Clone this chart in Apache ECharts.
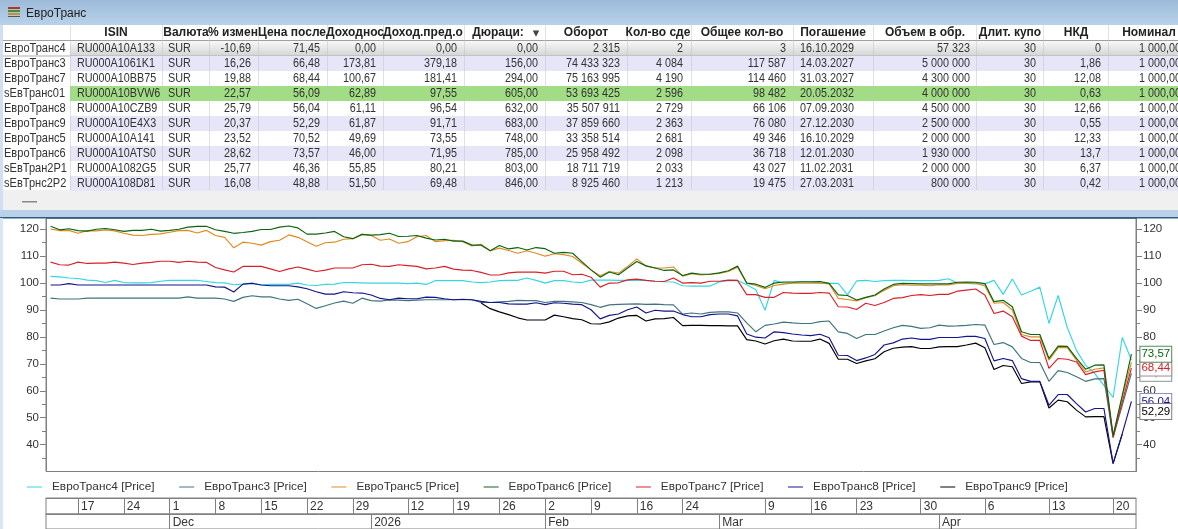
<!DOCTYPE html>
<html><head><meta charset="utf-8">
<style>html,body{margin:0;padding:0;background:#fff;overflow:hidden}#c{width:1178px;height:529px}</style>
<script src="https://cdn.jsdelivr.net/npm/echarts@6/dist/echarts.min.js"></script>
</head><body><div id="c"></div>
<script>
// ---------- chart data ----------
const dates = ['2025-11-12','2025-11-13','2025-11-14','2025-11-17','2025-11-18','2025-11-19','2025-11-20','2025-11-21','2025-11-24','2025-11-25','2025-11-26','2025-11-27','2025-11-28',
'2025-12-01','2025-12-02','2025-12-03','2025-12-04','2025-12-05','2025-12-08','2025-12-09','2025-12-10','2025-12-11','2025-12-12','2025-12-15','2025-12-16','2025-12-17','2025-12-18','2025-12-19','2025-12-22','2025-12-23','2025-12-24','2025-12-25','2025-12-26','2025-12-29','2025-12-30',
'2026-01-05','2026-01-06','2026-01-08','2026-01-09','2026-01-12','2026-01-13','2026-01-14','2026-01-15','2026-01-16','2026-01-19','2026-01-20','2026-01-21','2026-01-22','2026-01-23','2026-01-26','2026-01-27','2026-01-28','2026-01-29','2026-01-30',
'2026-02-02','2026-02-03','2026-02-04','2026-02-05','2026-02-06','2026-02-09','2026-02-10','2026-02-11','2026-02-12','2026-02-13','2026-02-16','2026-02-17','2026-02-18','2026-02-19','2026-02-20','2026-02-24','2026-02-25','2026-02-26','2026-02-27',
'2026-03-02','2026-03-03','2026-03-04','2026-03-05','2026-03-06','2026-03-09','2026-03-10','2026-03-11','2026-03-12','2026-03-13','2026-03-16','2026-03-17','2026-03-18','2026-03-19','2026-03-20','2026-03-23','2026-03-24','2026-03-25','2026-03-26','2026-03-27','2026-03-28','2026-03-29','2026-03-30','2026-03-31',
'2026-04-01','2026-04-02','2026-04-03','2026-04-04','2026-04-05','2026-04-06','2026-04-07','2026-04-08','2026-04-09','2026-04-10','2026-04-11','2026-04-12','2026-04-13','2026-04-14','2026-04-15','2026-04-16','2026-04-17','2026-04-18','2026-04-19','2026-04-20','2026-04-21','2026-04-22'];
const weekTicks = ['2025-11-17','2025-11-24','2025-12-01','2025-12-08','2025-12-15','2025-12-22','2025-12-29','2026-01-12','2026-01-19','2026-01-26','2026-02-02','2026-02-09','2026-02-16','2026-02-24','2026-03-09','2026-03-16','2026-03-23','2026-03-30','2026-04-06','2026-04-13','2026-04-20'];
const monthTicks = {'2025-12-01':'Dec','2026-01-05':'2026','2026-02-02':'Feb','2026-03-02':'Mar','2026-04-01':'Apr'};
const yLabels = [40,50,60,70,80,90,100,110,120];

const evro4 = [102.5,102.3,101.9,101.7,101.1,100.9,100.2,101,100.2,100.1,100.1,100.2,100.7,101,101,101,101,100.6,100.2,100.1,99.4,99.6,100,99.3,99.5,99.5,99.5,100,99.3,99.1,99.5,99.6,100.2,100.2,100.1,100,100,100,100,
99.8,100,99.5,100.9,100.9,100.9,100.9,100.4,100.2,100.4,100.9,101,101,101.9,101,100,100.9,100.9,100.4,100.2,101.1,101.1,101.1,101,101,101,101,100.7,100.5,100.4,99,98.9,98.9,98.9,100.4,100.9,101,99.4,97.5,89.9,101,100,100.2,
100.5,100.3,100.1,99.9,99.9,95.6,100.8,101,100.6,100.9,101,101,100.9,100.9,100.9,101,101.6,100.1,99.9,99.7,99.7,101,95.8,101.5,95.6,97,98.5,85,95.4,83.5,75,69.5,66.4,62,57.5,79.8,71.45];
const evro3 = [94.4,94.1,94.1,94.1,94.4,94.4,94.4,94.4,94.4,94.4,94.4,94.4,94.4,94.4,94.4,94.9,94.4,94.4,94.4,94.1,93.2,94.7,95.3,94.9,94.9,94.1,93.6,94,92.3,90.6,91.6,92.6,93.3,92.5,94.4,93.5,93.3,93.7,93.7,
93.5,93.7,93.8,93.8,93.8,93.8,93.8,93.8,92.8,92.8,93,93.2,93.6,93.5,93.5,92.8,93.2,93.2,93,92.8,92,91,91.9,92.1,92.2,92.3,92.1,92.2,92,91.9,88.5,88.9,88.5,89.1,89.3,89.3,88.9,85.2,81.9,84.3,84.8,85.5,85.2,
85,85,85.7,85.9,81.9,81.3,79.4,80.9,80.9,82.2,83.4,84.3,83.9,83.2,83.4,84.4,84,84.1,84.3,84.6,84.4,77.2,77.9,76.3,72,70.5,70.5,63.5,67.5,66.8,65.2,63.5,64.4,64.5,42.8,54.6,66.48];
const evro5 = [120.1,119.5,119.6,118.5,119.5,119.4,119.8,119.4,118.5,117.8,117.7,118.1,118.3,118.9,119.5,119.6,118.6,119.6,117.7,117,113.1,115.2,114.8,114.1,115.4,115.9,117.9,117,115.4,113.7,115,115.2,116.3,116.5,118.1,117.7,115.9,116.4,114.8,
115.4,117.2,117.7,115.4,115.8,115.9,115.4,113.8,114.4,112,113,112.1,111.1,112,111.1,110,110.9,110.6,109.9,107.4,104.9,102.7,104.3,103.7,106.2,109,106.4,105.6,105.6,106,102.6,103.5,103,103.3,103.6,104.3,105.9,100,99.1,97.9,99.1,99.6,100,
100,100,100,99.7,94.3,93.9,93.4,94.6,95.3,97.3,99,99.4,99.2,99.2,99,99.4,99.3,99.9,100.1,100,98.9,92.5,92.8,90,80.9,80,80,71.4,76,76,71.4,67,68,68.5,42.5,57.7,70.52];
const evro6 = [121.1,119.8,120.2,119.5,119.3,120,120.3,119.8,119.2,119.6,119.6,120,119.3,119.6,120,120.8,121.1,121.1,119.8,119.2,118.5,118.8,119.2,119.9,119.9,120.8,121.2,120.5,118.2,118.2,118.6,119.2,117.2,116.5,118.1,117.8,118,118.5,117.3,
117.4,117.7,116.7,116,116.3,115.6,115.6,114.1,114.1,112,114,112.7,113.2,112.3,113.2,112.8,111.1,111.4,111.1,108,104.9,102.2,104.1,103.1,105.6,108,106.4,105.6,104.7,104.9,102.8,103.7,103.3,103.3,103.8,104.6,106.3,100,99.6,98.4,100,100.4,100.4,
100.5,100.5,100.6,99.9,95.6,95.4,93.7,94.7,95.6,97.8,99.5,99.9,99.8,99.7,99.7,99.7,99.7,100.3,100.4,100.3,99.8,93.1,93.6,91.2,81.9,80.9,80.9,72,76.6,76.5,72,68,69.5,69.6,43.4,58.3,73.57];
const evro7 = [107.8,106.8,106.7,107.8,107.3,107.4,107.4,107.8,107.4,106.9,107.4,107.7,108.1,108.1,107.7,108.1,107.8,107.7,105.8,104.9,104.1,106.2,106.2,106.2,105.3,104.3,105.3,106,105.2,104.3,104.8,105.6,105.6,105.6,106.8,107,106.3,106.2,106.8,
106.5,106.2,105.3,105.6,106.2,105.2,104.8,104.7,104,103,103,103.8,104.1,104.1,104.1,103.7,104.4,104.4,103.1,103.3,102.2,98.5,100,100.1,101.2,101.5,101,100.7,100.6,101.9,100,100.2,100,100.7,100.7,101.1,101,95.7,95.7,94.7,94.7,96.5,96.3,
96.2,96.2,96.5,96.3,91.2,91.1,90.2,92.5,91.7,92.8,94.3,94.6,95.4,95.7,95.4,95.8,95.8,97,97.4,97.8,95.6,88.7,89.6,87.5,80.3,78.7,78.7,68.3,72,71.7,70.7,66,67,67.6,42.8,55.9,68.44];
const evro8 = [99.3,99.3,99.8,99.3,99.3,99.3,99.3,99.3,99.3,99.3,99.3,99.3,99.3,99.3,99.3,99.3,99.3,99.3,98.6,98.5,96.7,99.6,99.9,99.3,99,99,99,98.6,97.9,96.8,95.9,95.9,96.8,96.4,96.3,95.6,94.3,93.8,94.4,
94.2,94.2,94.8,94.7,94.2,93.8,94,93.8,93.2,92.8,92.8,92.3,92.2,92.2,92.7,92,92.7,92.5,92.2,92,90.1,86.7,88,88.5,90.1,91.1,88.9,89.9,89.6,89.6,88.3,87.5,87.5,88.3,88.5,88.5,87.8,81.1,79.9,79.6,81.9,81.6,81.1,
80.7,80.5,81,79.7,73.2,73.1,71.2,72.2,73.5,77,77.8,79.2,79.6,79.1,79.1,79.8,79.8,79.8,80.2,80.2,79.4,71.1,72,71.2,64.5,63.5,63.5,54.6,58.6,58.6,55.2,52.1,53.4,53.4,33,44.1,56.04];
const evro9 = [null,null,null,null,null,null,null,null,null,null,null,null,null,null,null,null,null,null,null,null,null,null,null,null,null,null,null,null,null,null,null,null,null,null,null,null,null,null,null,null,null,null,null,null,null,null,null,
92.6,90.5,89.3,88.3,87.1,86.3,86.3,86.3,88.1,87.5,86.8,86.4,84.9,84.8,85.6,87,87.8,88,85.9,86.7,86.8,87.2,84.2,84.3,84.3,84.2,84.2,84.1,84.1,79,78.5,77.4,78.6,79.2,78.5,
78.4,78.4,79.2,77.6,71.7,71.7,70.1,71.1,71.9,74.5,75.8,76.2,76.4,75.7,75.7,76.3,76.4,76.4,77,77.7,76,67.9,69.4,68.9,62.7,63.3,63.3,53.6,56.5,55.9,52.8,50.3,50.4,50.4,32.9,43.9,null];
const evro9LastPrice = 52.29;

const seriesNames = ['ЕвроТранс4 [Price]','ЕвроТранс3 [Price]','ЕвроТранс5 [Price]','ЕвроТранс6 [Price]','ЕвроТранс7 [Price]','ЕвроТранс8 [Price]','ЕвроТранс9 [Price]'];
const seriesValues = [evro4,evro3,evro5,evro6,evro7,evro8,evro9];

// ---------- table data ----------
const titleText = 'ЕвроТранс';
const tableHeaders = ['ISIN','Валюта','% измен','Цена после','Доходнос','Доход.пред.о','Дюраци:','Оборот','Кол-во сде','Общее кол-во','Погашение','Объем в обр.','Длит. купо','НКД','Номинал'];
const rowNames = ['ЕвроТранс4','ЕвроТранс3','ЕвроТранс7','sЕвТранс01','ЕвроТранс8','ЕвроТранс9','ЕвроТранс5','ЕвроТранс6','sЕвТран2Р1','sЕвТрнс2Р2'];
const colIsin = ['RU000A10A133','RU000A1061K1','RU000A10BB75','RU000A10BVW6','RU000A10CZB9','RU000A10E4X3','RU000A10A141','RU000A10ATS0','RU000A1082G5','RU000A108D81'];
const colCur = ['SUR','SUR','SUR','SUR','SUR','SUR','SUR','SUR','SUR','SUR'];
const colChange = ['-10,69','16,26','19,88','22,57','25,79','20,37','23,52','28,62','25,77','16,08'];
const colPrice = ['71,45','66,48','68,44','56,09','56,04','52,29','70,52','73,57','46,36','48,88'];
const colYield = ['0,00','173,81','100,67','62,89','61,11','61,87','49,69','46,00','55,85','51,50'];
const colYieldPrev = ['0,00','379,18','181,41','97,55','96,54','91,71','73,55','71,95','80,21','69,48'];
const colDur = ['0,00','156,00','294,00','605,00','632,00','683,00','748,00','785,00','803,00','846,00'];
const colTurn = ['2 315','74 433 323','75 163 995','53 693 425','35 507 911','37 859 660','33 358 514','25 958 492','18 711 719','8 925 460'];
const colDeals = ['2','4 084','4 190','2 596','2 729','2 363','2 681','2 098','2 033','1 213'];
const colQty = ['3','117 587','114 460','98 482','66 106','76 080','49 346','36 718','43 027','19 475'];
const colMat = ['16.10.2029','14.03.2027','31.03.2027','20.05.2032','07.09.2030','27.12.2030','16.10.2029','12.01.2030','11.02.2031','27.03.2031'];
const colVol = ['57 323','5 000 000','4 300 000','4 000 000','4 500 000','2 500 000','2 000 000','1 930 000','2 000 000','800 000'];
const colCoupon = ['30','30','30','30','30','30','30','30','30','30'];
const colNkd = ['0','1,86','12,08','0,63','12,66','0,55','12,33','13,7','6,37','0,42'];
const colNom = ['1 000,00','1 000,00','1 000,00','1 000,00','1 000,00','1 000,00','1 000,00','1 000,00','1 000,00','1 000,00'];
const tableCols = [colIsin,colCur,colChange,colPrice,colYield,colYieldPrev,colDur,colTurn,colDeals,colQty,colMat,colVol,colCoupon,colNkd,colNom];

// ---------- layout / style (separate from data) ----------
const colors = ['#35d6e0','#3f747c','#e08a1e','#0a640f','#d8202a','#14148c','#000000'];
const labelBorder = ['#3f8f45','#7d8f94','#d49a55','#4f8a55','#9a8a8a','#8088bb','#808080'];
const colEdges = [70,162,209,258,327,383,464,545,627,691,793,873,976,1043,1108,1188];
const colAnchor = [[77,'left'],[168,'left'],[251,'right'],[320,'right'],[376,'right'],[457,'right'],[538,'right'],[620,'right'],[683,'right'],[786,'right'],[800,'left'],[970,'right'],[1036,'right'],[1101,'right'],[1181,'right']];
const headCenter = [116,186,233,292,355,423,498,586,658,742,833,925,1010,1076,1149];
const rowTop = 41, rowH = 15, cellScale = 0.83;
const rowFill = [null,'#e6e6f8',null,'#a2dc84',null,'#e6e6f8',null,'#e6e6f8',null,'#e6e6f8'];
const cellFont = '13px "Liberation Sans",sans-serif';
const headFont = 'bold 12px "Liberation Sans",sans-serif';
const axisFont = {fontFamily:'"Liberation Sans",sans-serif',fontSize:11.5,color:'#333'};

function rect(x,y,w,h,fill){return {type:'rect',silent:true,z:10,shape:{x,y,width:w,height:h},style:{fill}};}
function text(t,x,y,align,font,fill,sx){return {type:'text',silent:true,z:12,x,y,scaleX:sx||1,style:{text:t,x:0,y:0,align,verticalAlign:'middle',textAlign:align,textVerticalAlign:'middle',font,fill:fill||'#333'}};}
const vgrad = (a,b)=>({type:'linear',x:0,y:0,x2:0,y2:1,colorStops:[{offset:0,color:a},{offset:1,color:b}]});

const g = [];
g.push(rect(0,0,1178,25,vgrad('#9dbad8','#b9d2ea')));
g.push(rect(8,7,12,2,'#b5342a'),rect(8,10,12,2,'#4a8a3a'),rect(8,13,12,2,'#c9902a'),rect(8,16,12,1,'#555'));
g.push(text(titleText,26,14,'left','12px "Liberation Sans",sans-serif','#222'));
g.push(rect(0,25,3,190,'#cfe0f0'));
g.push(rect(3,25,1175,165,'#fff'));
g.push(rect(3,190,1175,20,'#f0f0f0'));
g.push(rect(22,201,15,1.5,'#888'));
g.push(rect(0,210,1178,7,'#b9d2ea'));
g.push(rect(0,217,1178,1.6,'#2e5f80'));
g.push(rect(0,218,3,311,'#d9e6f3'));
// header
tableHeaders.forEach((h,i)=>g.push(text(h,headCenter[i],33,'center',headFont,'#222')));
g.push(text('▾',536,34,'center','13px "DejaVu Sans",sans-serif','#444'));
g.push(rect(3,40,1175,1,'#a0a0a0'));
// rows
rowNames.forEach((name,r)=>{
  const y = rowTop + r*rowH;
  if (r===0) { g.push(rect(70,y,1108,rowH,vgrad('#f8f8f8','#d4d4d4'))); g.push(rect(3,y+rowH-0.5,1175,1,'#b0b0b0')); }
  else if (rowFill[r]) g.push(rect(70,y,1108,rowH,rowFill[r]));
});
colEdges.forEach(x=>{ if(x<1178) g.push(rect(x,25,1,165,'rgba(190,190,190,0.45)')); });
rowNames.forEach((name,r)=>{
  const y = rowTop + r*rowH;
  g.push(text(name,4,y+7,'left',cellFont,'#333',cellScale+0.02));
  tableCols.forEach((col,c)=>g.push(text(col[r],colAnchor[c][0],y+7,colAnchor[c][1],cellFont,'#333',cellScale)));
});

const plot = {left:46,width:1090,top:218.5,height:253};
const yAxisBase = (pos)=>({
  type:'value',position:pos,min:30,max:124,interval:10,gridIndex:0,
  splitLine:{show:false},
  axisLine:{show:true,lineStyle:{color:'#808080'}},
  axisTick:{show:true,length:6,customValues:yLabels,lineStyle:{color:'#808080'}},
  minorTick:{show:true,splitNumber:2,length:4,lineStyle:{color:'#808080'}},
  axisLabel:{...axisFont,margin:7,customValues:yLabels}
});
const stripAxis = (idx,test,fmt)=>({type:'category',gridIndex:idx,data:dates,boundaryGap:true,position:'top',
  axisLine:{show:true,onZero:false,lineStyle:{color:'#808080'}},
  axisTick:{show:true,inside:true,length:16,alignWithLabel:true,lineStyle:{color:'#808080'},interval:(i,v)=>test(v)},
  axisLabel:{inside:true,margin:3,align:'left',padding:[0,0,0,3],...axisFont,fontSize:12,hideOverlap:false,
    interval:(i,v)=>test(v),formatter:fmt}});
const endLabelStyle = (i)=>({color:colors[i],fontFamily:'"Liberation Sans",sans-serif',fontSize:11.5,
  backgroundColor:'#fff',borderColor:labelBorder[i],borderWidth:1,padding:[2,1,1,1]});
const priceText = v=>Number(v).toFixed(2).replace('.',',');

const option = {
  animation:false,
  backgroundColor:'#fff',
  graphic:{elements:g},
  legend:{left:27,top:481,padding:0,itemWidth:15,itemHeight:1,itemGap:24.6,icon:'rect',
    data:seriesNames,selectedMode:false,
    textStyle:{fontFamily:'"Liberation Sans",sans-serif',fontSize:11.8,color:'#333',padding:[0,0,0,5]}},
  grid:[
    {...plot,show:true,borderColor:'#808080',borderWidth:1,backgroundColor:'#fff'},
    {left:46,width:1090,top:498,height:16,show:true,borderColor:'#808080',borderWidth:1,backgroundColor:'#fff'},
    {left:46,width:1090,top:514,height:16,show:true,borderColor:'#808080',borderWidth:1,backgroundColor:'#fff'}
  ],
  xAxis:[
    {type:'category',gridIndex:0,data:dates,boundaryGap:true,show:false},
    stripAxis(1,v=>weekTicks.includes(v),v=>String(parseInt(v.slice(8),10))),
    stripAxis(2,v=>v in monthTicks,v=>monthTicks[v]||'')
  ],
  yAxis:[
    yAxisBase('left'),
    yAxisBase('right'),
    {type:'value',gridIndex:1,show:false},
    {type:'value',gridIndex:2,show:false}
  ],
  series:seriesNames.map((name,i)=>{
    const hasEnd = [1,3,4,5].includes(i);
    const zOrder = {1:3,3:6,4:5,5:4,6:3.5};
    const s = {
      name,type:'line',xAxisIndex:0,yAxisIndex:0,data:seriesValues[i],
      showSymbol:false,symbol:'none',connectNulls:false,z:zOrder[i]||2,
      lineStyle:{color:colors[i],width:1.15},itemStyle:{color:colors[i]},
      emphasis:{disabled:true},
      endLabel:{show:hasEnd,distance:9,...endLabelStyle(i),formatter:p=>priceText(p.value)}
    };
    if (i===6) s.markPoint = {z:20,symbol:'circle',symbolSize:0,silent:true,
      data:[{coord:[dates[dates.length-1],evro9LastPrice],value:evro9LastPrice}],
      label:{show:true,position:'right',distance:9,...endLabelStyle(6),formatter:p=>priceText(p.value)}};
    return s;
  })
};
const chart = echarts.init(document.getElementById('c'),null,{renderer:'canvas'});
chart.setOption(option);
</script></body></html>
